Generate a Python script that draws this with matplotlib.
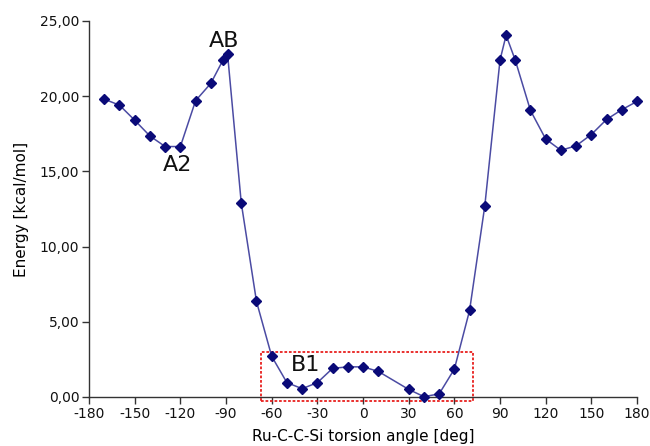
import matplotlib
matplotlib.use("Agg")
import matplotlib.pyplot as plt
from matplotlib.patches import Rectangle
from matplotlib.ticker import FuncFormatter

plt.rcParams["axes.unicode_minus"] = False

angle = [-170, -160, -150, -140, -130, -120, -110, -100, -92, -89,
         -80, -70, -60, -50, -40, -30, -20, -10, 0, 10,
         30, 40, 50, 60, 70, 80, 90, 94, 100, 110,
         120, 130, 140, 150, 160, 170, 180]
energy = [19.8, 19.4, 18.4, 17.35, 16.65, 16.65, 19.7, 20.85, 22.4, 22.8,
          12.9, 6.35, 2.7, 0.95, 0.55, 0.95, 1.9, 2.0, 2.0, 1.7,
          0.5, 0.02, 0.2, 1.85, 5.75, 12.7, 22.4, 24.05, 22.4, 19.05,
          17.15, 16.4, 16.7, 17.45, 18.45, 19.1, 19.65]
xticks = list(range(-180, 181, 30))
yticks = [0, 5, 10, 15, 20, 25]
labels = [("AB", -91, 23.7), ("A2", -122, 15.4), ("B1", -38, 2.1)]
box = (-67, -0.3, 139, 3.3)

fig = plt.figure(figsize=(6.5, 4.46), dpi=100)
ax = fig.add_axes([0.137, 0.11, 0.843, 0.843])
ax.plot(angle, energy, color="#4b4ba3", lw=1.1, zorder=3, clip_on=False)
ax.plot(angle, energy, ls="none", marker="D", ms=5.5, color="#0a0a78",
        zorder=4, clip_on=False)

ax.add_patch(Rectangle((box[0], box[1]), box[2], box[3], fill=False,
                       edgecolor="#e8201e", ls=(0, (1.5, 1.0)), lw=1.3,
                       clip_on=False, zorder=2))

for txt, x, y in labels:
    ax.text(x, y, txt, fontsize=16, ha="center", va="center", color="#111111")

ax.set_xlim(-180, 180)
ax.set_ylim(0, 25)
ax.set_xticks(xticks)
ax.set_yticks(yticks)
ax.xaxis.set_major_formatter(FuncFormatter(lambda v, p: f"{int(round(v))}"))
ax.yaxis.set_major_formatter(FuncFormatter(lambda v, p: f"{v:.2f}".replace(".", ",")))
for s in ["top", "right"]:
    ax.spines[s].set_visible(False)
for s in ["left", "bottom"]:
    ax.spines[s].set_color("#333333")
    ax.spines[s].set_linewidth(1.0)
ax.tick_params(direction="out", length=5, width=1, color="#333333",
               labelsize=10, labelcolor="#111111", pad=2)
ax.set_xlabel("Ru-C-C-Si torsion angle [deg]", fontsize=11, labelpad=6)
ax.set_ylabel("Energy [kcal/mol]", fontsize=11, labelpad=8)

fig.savefig("out.png", dpi=100)
